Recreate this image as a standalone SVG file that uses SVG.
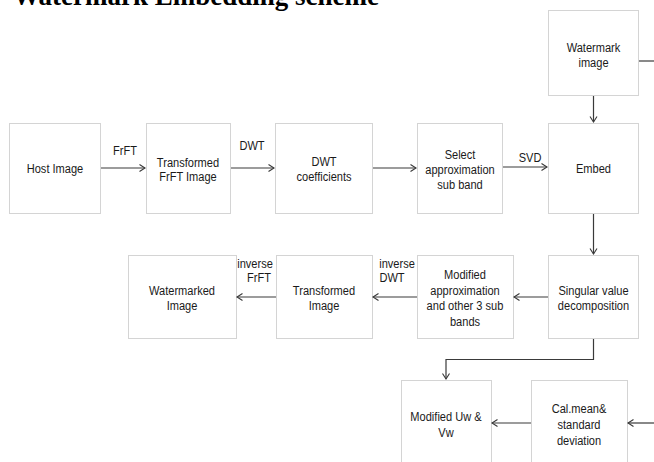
<svg xmlns="http://www.w3.org/2000/svg" width="654" height="462" viewBox="0 0 654 462">
  <defs>
    <style>
      .box { fill: #ffffff; stroke: #d4d4d4; stroke-width: 1; }
      .lbl { font-family: "Liberation Sans", Arial, sans-serif; font-size: 13.5px; fill: #1a1a1a; text-anchor: middle; }
      .edge { fill: none; stroke: #3a3a3a; stroke-width: 1.2; }
      .title { font-family: "Liberation Serif", "Times New Roman", serif; font-weight: bold; font-size: 27px; fill: #000; }
    </style>
    <marker id="arrow" markerUnits="userSpaceOnUse" markerWidth="10" markerHeight="10" refX="6" refY="4" orient="auto">
      <path d="M0.5,0.5 L6,4 L0.5,7.5" fill="none" stroke="#3a3a3a" stroke-width="1.1"/>
    </marker>
  </defs>
  <rect width="654" height="462" fill="#ffffff"/>

  <text class="title" x="13" y="5">Watermark Embedding scheme</text>

  <g id="host-image">
    <rect class="box" x="9.5" y="123.5" width="91" height="90"/>
    <text class="lbl" transform="translate(55 173) scale(0.82 1)">Host Image</text>
  </g>
  <g id="transformed-frft">
    <rect class="box" x="146.5" y="123.5" width="84" height="90"/>
    <text class="lbl" transform="translate(188 166.5) scale(0.82 1)">Transformed</text>
    <text class="lbl" transform="translate(188 181) scale(0.82 1)">FrFT  Image</text>
  </g>
  <g id="dwt-coefficients">
    <rect class="box" x="275.5" y="123.5" width="97" height="90"/>
    <text class="lbl" transform="translate(324 166) scale(0.82 1)">DWT</text>
    <text class="lbl" transform="translate(324 181) scale(0.82 1)">coefficients</text>
  </g>
  <g id="select-approx">
    <rect class="box" x="417.5" y="123.5" width="85" height="90"/>
    <text class="lbl" transform="translate(460 158.5) scale(0.82 1)">Select</text>
    <text class="lbl" transform="translate(460 173.5) scale(0.82 1)">approximation</text>
    <text class="lbl" transform="translate(460 188.5) scale(0.82 1)">sub band</text>
  </g>
  <g id="embed">
    <rect class="box" x="548.5" y="123.5" width="90" height="90"/>
    <text class="lbl" transform="translate(593.5 173) scale(0.82 1)">Embed</text>
  </g>
  <g id="watermark-image">
    <rect class="box" x="548.5" y="10.5" width="90" height="85"/>
    <text class="lbl" transform="translate(593.5 51.5) scale(0.82 1)">Watermark</text>
    <text class="lbl" transform="translate(593.5 67) scale(0.82 1)">image</text>
  </g>
  <g id="svd">
    <rect class="box" x="548.5" y="255.5" width="90" height="83"/>
    <text class="lbl" transform="translate(593.5 295) scale(0.82 1)">Singular value</text>
    <text class="lbl" transform="translate(593.5 310) scale(0.82 1)">decomposition</text>
  </g>
  <g id="modified-approx">
    <rect class="box" x="417.5" y="255.5" width="96" height="83"/>
    <text class="lbl" transform="translate(465 278.5) scale(0.82 1)">Modified</text>
    <text class="lbl" transform="translate(465 294.5) scale(0.82 1)">approximation</text>
    <text class="lbl" transform="translate(465 310) scale(0.82 1)">and other 3 sub</text>
    <text class="lbl" transform="translate(465 325.5) scale(0.82 1)">bands</text>
  </g>
  <g id="transformed-image">
    <rect class="box" x="276.5" y="255.5" width="96" height="83"/>
    <text class="lbl" transform="translate(324 295) scale(0.82 1)">Transformed</text>
    <text class="lbl" transform="translate(324 310) scale(0.82 1)">Image</text>
  </g>
  <g id="watermarked-image">
    <rect class="box" x="128.5" y="255.5" width="108" height="83"/>
    <text class="lbl" transform="translate(182 295) scale(0.82 1)">Watermarked</text>
    <text class="lbl" transform="translate(182 310) scale(0.82 1)">Image</text>
  </g>
  <g id="modified-uw-vw">
    <rect class="box" x="401.5" y="380.5" width="90" height="90"/>
    <text class="lbl" transform="translate(446 421) scale(0.82 1)">Modified Uw &amp;</text>
    <text class="lbl" transform="translate(446 437) scale(0.82 1)">Vw</text>
  </g>
  <g id="cal-mean">
    <rect class="box" x="531.5" y="380.5" width="96" height="90"/>
    <text class="lbl" transform="translate(579 413) scale(0.82 1)">Cal.mean&amp;</text>
    <text class="lbl" transform="translate(579 429) scale(0.82 1)">standard</text>
    <text class="lbl" transform="translate(579 445) scale(0.82 1)">deviation</text>
  </g>

  <g id="connectors">
    <path class="edge" d="M101,168 H145" marker-end="url(#arrow)"/>
    <path class="edge" d="M231,168 H274" marker-end="url(#arrow)"/>
    <path class="edge" d="M373,168 H416" marker-end="url(#arrow)"/>
    <path class="edge" d="M503,167 H547" marker-end="url(#arrow)"/>
    <path class="edge" d="M593.5,96 V122" marker-end="url(#arrow)"/>
    <path class="edge" d="M639,61 H654"/>
    <path class="edge" d="M593.5,214 V254" marker-end="url(#arrow)"/>
    <path class="edge" d="M548,297 H514" marker-end="url(#arrow)"/>
    <path class="edge" d="M417,297 H373" marker-end="url(#arrow)"/>
    <path class="edge" d="M276,297 H237" marker-end="url(#arrow)"/>
    <path class="edge" d="M593.5,339 V359.5 H446 V379" marker-end="url(#arrow)"/>
    <path class="edge" d="M531,423 H492" marker-end="url(#arrow)"/>
    <path class="edge" d="M654,423 H628" marker-end="url(#arrow)"/>

    <text class="lbl" transform="translate(125 154.5) scale(0.82 1)">FrFT</text>
    <text class="lbl" transform="translate(252 150) scale(0.82 1)">DWT</text>
    <text class="lbl" transform="translate(530 162) scale(0.82 1)">SVD</text>
    <text class="lbl" transform="translate(255 268) scale(0.82 1)">inverse</text>
    <text class="lbl" transform="translate(259 282) scale(0.82 1)">FrFT</text>
    <text class="lbl" transform="translate(397 268) scale(0.82 1)">inverse</text>
    <text class="lbl" transform="translate(392 282) scale(0.82 1)">DWT</text>
  </g>
</svg>
